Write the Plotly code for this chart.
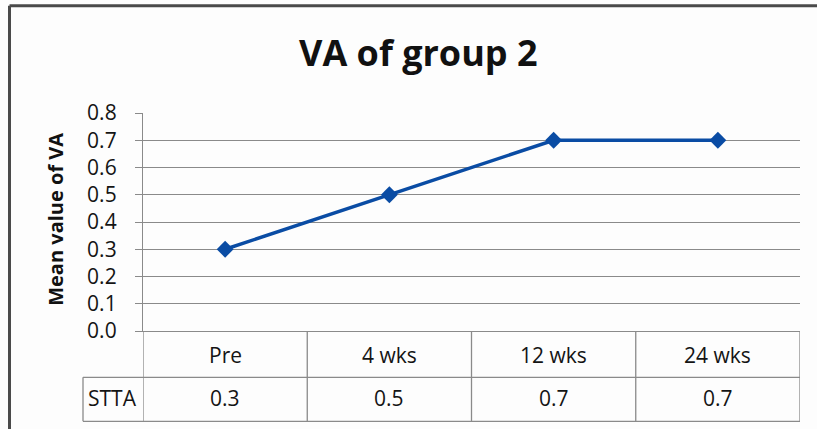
import plotly.graph_objects as go

categories = ["Pre", "4 wks", "12 wks", "24 wks"]
series_name = "STTA"
values = [0.3, 0.5, 0.7, 0.7]
y_ticks = [0.0, 0.1, 0.2, 0.3, 0.4, 0.5, 0.6, 0.7, 0.8]
title_text = "VA of group 2"
y_title = "Mean value of VA"

W, H = 817, 429
L, R, T, B = 143, 17, 112.7, 98.3
plot_h = H - T - B
plot_w = W - L - R

def py(p):
    return (H - B - p) / plot_h

def px(p):
    return (p - L) / plot_w

FONT = "Open Sans"
GRID = "#8A8A8A"
BLUE = "#0A4CA4"
TXT = "#141414"

xs = list(range(len(categories)))

fig = go.Figure()
fig.add_trace(go.Scatter(
    x=xs, y=values, mode="lines+markers",
    line=dict(color=BLUE, width=3.5),
    marker=dict(symbol="diamond", size=13, color=BLUE),
    showlegend=False, cliponaxis=False,
))

shapes = []
row1 = py(377)
row2 = py(421)
# table vertical lines
for i in range(len(categories) + 1):
    xv = i - 0.5
    shapes.append(dict(type="line", xref="x", yref="paper", x0=xv, x1=xv,
                       y0=0, y1=row2, line=dict(color=GRID, width=1.3)))
# table horizontal lines
for yv in (row1, row2):
    shapes.append(dict(type="line", xref="paper", yref="paper", x0=px(83), x1=1,
                       y0=yv, y1=yv, line=dict(color=GRID, width=1.3)))
shapes.append(dict(type="line", xref="paper", yref="paper", x0=px(83), x1=px(83),
                   y0=row1, y1=row2, line=dict(color=GRID, width=1.3)))
# outer border (top & left)
shapes.append(dict(type="line", xref="paper", yref="paper", x0=px(9.5), x1=px(830),
                   y0=py(5.5), y1=py(5.5), line=dict(color="#4A4A4A", width=3)))
shapes.append(dict(type="line", xref="paper", yref="paper", x0=px(9.5), x1=px(9.5),
                   y0=py(5.5), y1=py(440), line=dict(color="#4A4A4A", width=3)))

def ann(x, y, text, size, xref="paper", angle=0, color=TXT):
    return dict(x=x, y=y, xref=xref, yref="paper", text=text, showarrow=False,
                xanchor="center", yanchor="middle", textangle=angle,
                font=dict(family=FONT, size=size, color=color))

annotations = []
for i, c in enumerate(categories):
    annotations.append(ann(i, py(355), c, 21, xref="x"))
    annotations.append(ann(i, py(398), f"{values[i]:.1f}", 21, xref="x"))
annotations.append(ann(px(112), py(398), series_name, 21))
annotations.append(ann(px(56), py(219.5), f"<b>{y_title}</b>", 20, angle=-90, color="#111111"))
annotations.append(ann(px(418), py(52), f"<b>{title_text}</b>", 36, color="#111111"))

fig.update_layout(
    width=W, height=H,
    margin=dict(l=L, r=R, t=T, b=B, pad=0),
    paper_bgcolor="#FDFDFD", plot_bgcolor="#FDFDFD",
    shapes=shapes, annotations=annotations,
    xaxis=dict(range=[-0.5, len(categories) - 0.5], showticklabels=False, showgrid=False,
               zeroline=False, showline=True, linecolor=GRID, linewidth=1.3,
               ticks="", fixedrange=True),
    yaxis=dict(range=[0, 0.8], tickvals=y_ticks, ticktext=[f"{v:.1f}" for v in y_ticks],
               showgrid=True, gridcolor=GRID, gridwidth=1.3, zeroline=False,
               showline=True, linecolor=GRID, linewidth=1.3,
               ticks="outside", ticklen=7, tickcolor=GRID, tickwidth=1.3,
               ticklabelstandoff=14,
               tickfont=dict(family=FONT, size=21, color=TXT), fixedrange=True),
)

fig.write_html(
    "out.html",
    config={"displayModeBar": False},
    post_script="document.body.style.margin='0';document.body.style.overflow='hidden';",
)
